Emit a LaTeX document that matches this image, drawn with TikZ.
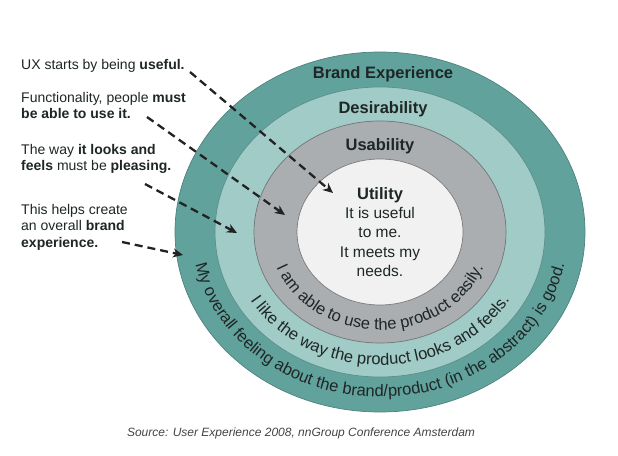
\documentclass[tikz,border=0pt]{standalone}
\usepackage{fontspec}
\setmainfont{Liberation Sans}
\usetikzlibrary{arrows.meta,decorations.text}
\definecolor{outerc}{HTML}{62A29C}
\definecolor{outerb}{HTML}{4C837D}
\definecolor{desc}{HTML}{A1CBC7}
\definecolor{desb}{HTML}{5E8E89}
\definecolor{usac}{HTML}{ABAEB1}
\definecolor{usab}{HTML}{6F7677}
\definecolor{utic}{HTML}{F1F1F1}
\definecolor{utib}{HTML}{7A7A7A}
\definecolor{txtc}{HTML}{1E2626}
\definecolor{arrc}{HTML}{222222}
\definecolor{srcc}{HTML}{444444}
\newcommand\crvfont{\fontsize{16.5}{18}\selectfont}
\begin{document}
\begin{tikzpicture}[x=1pt,y=1pt,
  ring/.style={line width=0.7pt},
  ringlabel/.style={font=\fontsize{16.5}{19}\selectfont\bfseries, text=txtc, inner sep=0pt},
  lefttext/.style={font=\fontsize{14}{16.5}\selectfont, text=txtc, inner sep=0pt, align=left, anchor=north west},
  uxarrow/.style={draw=arrc, line width=2.3pt, dash pattern=on 8pt off 5pt,
    -{Stealth[length=10pt,width=9pt,inset=3pt]}},
  curvetext/.style={decorate, decoration={text along path, text align=center, text color=txtc}}
]
\useasboundingbox (0,0) rectangle (618,455);
\fill[white] (0,0) rectangle (618,455);
\coordinate (c) at (380,223);
% rings
\filldraw[ring, fill=outerc, draw=outerb] (c) ellipse[x radius=205, y radius=180];
\filldraw[ring, fill=desc, draw=desb] (c) ellipse[x radius=165, y radius=145];
\filldraw[ring, fill=usac, draw=usab] (c) ellipse[x radius=126, y radius=111];
\filldraw[ring, fill=utic, draw=utib] (c) ellipse[x radius=83, y radius=73];
% ring labels
\node[ringlabel] (brand) at (383,381) {Brand Experience};
\node[ringlabel] (desir) at (383,346) {Desirability};
\node[ringlabel] (usab) at (380,309) {Usability};
\node[font=\fontsize{15.5}{19.2}\selectfont, text=txtc, inner sep=0pt, align=center] (util) at (380,223)
  {{\fontsize{16.5}{19.2}\selectfont\bfseries Utility}\\It is useful\\to me.\\It meets my\\needs.};
% curved texts
\path[curvetext, decoration={text={|\crvfont|I am able to use the product easily.}}]
  (269,223) arc[start angle=180, end angle=360, x radius=111, y radius=98];
\path[curvetext, decoration={text={|\crvfont|I like the way the product looks and feels.}}]
  (229,223) arc[start angle=180, end angle=360, x radius=151, y radius=133];
\path[curvetext, decoration={text={|\crvfont|My overall feeling about the brand/product (in the abstract) is good.}}]
  (192,223) arc[start angle=180, end angle=360, x radius=188, y radius=165];
% left texts
\node[lefttext] (t1) at (21,396) {UX starts by being \textbf{useful.}};
\node[lefttext] (t2) at (21,363) {Functionality, people \textbf{must}\\\textbf{be able to use it.}};
\node[lefttext] (t3) at (21,311) {The way \textbf{it looks and}\\\textbf{feels} must be \textbf{pleasing.}};
\node[lefttext] (t4) at (21,251) {This helps create\\an overall \textbf{brand}\\\textbf{experience.}};
% arrows
\coordinate (a1s) at (190,383); \coordinate (a1e) at (333,262);
\coordinate (a2s) at (147,338); \coordinate (a2e) at (285,240);
\coordinate (a3s) at (145,271); \coordinate (a3e) at (237,222);
\coordinate (a4s) at (122,213); \coordinate (a4e) at (183,200);
\draw[uxarrow] (a1s) -- (a1e);
\draw[uxarrow] (a2s) -- (a2e);
\draw[uxarrow] (a3s) -- (a3e);
\draw[uxarrow] (a4s) -- (a4e);
% source
\node[font=\fontsize{12}{14}\selectfont\itshape, text=srcc, inner sep=0pt] (src) at (301,22)
  {Source: User Experience 2008, nnGroup Conference Amsterdam};
\end{tikzpicture}
\end{document}
